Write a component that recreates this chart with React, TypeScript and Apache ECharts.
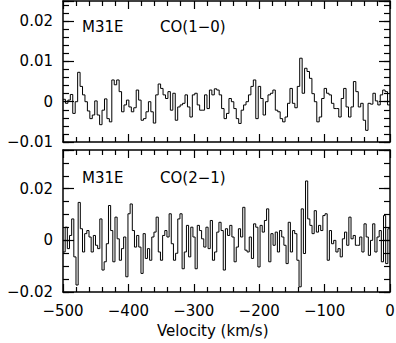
import React, { useEffect, useRef } from "react";
import * as echarts from "echarts";

// CO(1-0) spectrum, Tmb in units of 0.001 K, channels from -500 to 0 km/s
const co10: number[] = [
  0.6, -0.4, 0.4, 1.8, -2.9, 0, 7.3, 3.8, 1.7, 0, -2.3, -4.2, -3.3, 0.2, -3.3, -5.7, -2.1, 0.7, -4.2, -5.0,
  5.4, 4.2, 5.4, 2.5, -2.5, -0.8, 0.4, -1.3, -2.5, -1.5, 2.9, 0.4, -4.6, -4.2, -2.5, 0, -2.5, -5.3, 1.7, 4.4,
  3.3, 1.7, 0.8, 2.5, -2.1, 2.1,
  -4.6, -1.3, -0.8, -0.4, 1.7, -1.3, -3.8, 1.7, 2.1, -0.8, -2.1, -2.1, 1.7, -1.7, 2.9, 1.7, 3.2, 2.9, 1.7, -1.7,
  -4.2, -2.9, 0.8, 0, -1.7, -4.2, -5.4, -2.1, -0.8, 0, 1.7, 3.8, 5.4, -4.2, 3.8, 0.8, -3.3, 0, 1.7, 2.1,
  2.9, -2.1, -2.5, -4.2,
  -5.0, -3.8, -0.4, 3.3, -0.4, -1.5, 3.8, 10.8, 2.1, 8.3, 7.5, 5.8, 2.0, 0, -5.0, -3.8, 0.8, 3.3, 2.1, 1.7,
  -0.4, -1.7, -1.7, -3.8, 0.8, 3.3, -1.3, -3.8, -1.3, 5.0, 2.5, -1.3, -0.4, -4.6, -7.1, -0.4, -0.6, 2.1, 0.2, -0.8,
  1.7, 2.9, 2.5, -0.8,
];

// CO(2-1) spectrum, Tmb in units of 0.001 K
const co21: number[] = [
  -4.5, 5.1, -3.2, 1.9, 8.3, -6.4, -17.3, 14.7, 4.5, -4.5, 2.6, 3.8, 1.3, -4.5, 1.9, -1.9, -3.2, 8.3, -11.5, -8.3,
  -1.3, 13.5, 3.8, -8.3, 9.0, 0.6, -7.7, -3.2, 1.3, -14.1, 10.3, 14.1, 3.8, -2.6, 1.9, -2.6, -12.8, 2.6, -7.0, -3.2,
  -7.7, 1.3, 3.2, 9.0, -4.5, -7.7, 1.9, 3.8, 1.3, 10.3, -1.3, -7.7,
  -5.0, 8.3, 10.3, -11.0, -4.5, 5.8, -6.4, 5.1, 1.3, -11.0, 5.8, 3.8, 0.6, -2.6, 5.1, -3.2, 7.7, -7.7, -4.5, 3.2,
  7.0, 3.8, -11.5, 4.5, 1.9, 5.8, 1.3, -8.3, -2.6, 4.5, 1.3, 12.8, -3.8, -4.5, 1.3, -7.0, 6.4, 5.1, -10.3, 5.8,
  3.2, 7.7, 12.2, -8.3, 2.6, -1.9, 3.2, -4.5, 3.8,
  1.3, -1.9, -9.0, 7.0, -4.5, 3.8, 2.6, -7.7, -18.0, 12.2, -5.1, 23.0, 8.3, 5.8, 2.6, 11.5, 3.2, 5.8, 3.8, 9.6,
  10.3, -7.7, 3.8, -1.3, 0, -4.5, -3.2, -6.4, 0.6, 3.2, -1.9, 9.0, 0.6, 1.9, -1.9, -1.9, 1.3, -4.5, 6.4, 1.3,
  -5.8, 0, 6.4, -4.5, 1.3, 3.8, -8.3, 9.6, -9.0, 4.5,
];

const velRange = [-500, 0];
const topYRange = [-10, 25];
const botYRange = [-20, 35];
const panelLabels = ["M31E", "CO(1\u22120)", "M31E", "CO(2\u22121)"];
const xTitle = "Velocity (km/s)";

const FONT = "DejaVu Sans";

function toPairs(vals: number[]) {
  const dv = (velRange[1] - velRange[0]) / vals.length;
  const pts = vals.map((v, i) => [velRange[0] + i * dv, v]);
  pts.push([velRange[1], vals[vals.length - 1]]);
  return pts;
}

function yFmt(major: number) {
  return (v: number) => {
    if (Math.abs(v % major) > 1e-6) return "";
    if (v === 0) return "0";
    return (v / 1000).toFixed(2).replace("-", "\u2212");
  };
}
const noLabel = () => "";

export default function App() {
  const ref = useRef<HTMLDivElement>(null);
  useEffect(() => {
    if (!ref.current) return;
    const chart = echarts.init(ref.current, undefined, { renderer: "svg" });
    const tickStyle = { color: "#000", width: 1.2 };
    const labelBase = { show: true, fontSize: 15, fontFamily: FONT, color: "#000" };
    const xAx = (grid: number, pos: string, labels: boolean) => ({
      gridIndex: grid,
      type: "value",
      position: pos,
      min: velRange[0],
      max: velRange[1],
      interval: 100,
      axisLine: { show: true, onZero: false, lineStyle: { color: "#000", width: 1.5 } },
      axisTick: { show: true, inside: true, length: 8, lineStyle: tickStyle },
      minorTick: { show: true, splitNumber: 5, length: 5, lineStyle: tickStyle },
      splitLine: { show: false },
      axisLabel: {
        ...labelBase,
        margin: 11,
        formatter: labels ? (v: number) => (v === 0 ? "0" : String(v).replace("-", "\u2212")) : noLabel,
      },
    });
    const yAx = (grid: number, pos: string, range: number[], interval: number, len: number, labels: boolean, line: boolean) => ({
      gridIndex: grid,
      type: "value",
      position: pos,
      min: range[0],
      max: range[1],
      interval,
      axisLine: { show: line, onZero: false, lineStyle: { color: "#000", width: 1.5 } },
      axisTick: { show: true, inside: true, length: len, lineStyle: tickStyle },
      splitLine: { show: false },
      axisLabel: {
        ...labelBase,
        margin: 10,
        formatter: labels ? yFmt(interval) : noLabel,
      },
    });
    chart.setOption({
      animation: false,
      grid: [
        { left: 63, top: 1, width: 327, height: 141, containLabel: false, outerBoundsMode: "none" },
        { left: 63, top: 150, width: 327, height: 142, containLabel: false, outerBoundsMode: "none" },
      ],
      xAxis: [xAx(0, "bottom", false), xAx(0, "top", false), xAx(1, "bottom", true), xAx(1, "top", false)],
      yAxis: [
        yAx(0, "left", topYRange, 10, 11, true, true),
        yAx(0, "left", topYRange, 2, 6, false, false),
        yAx(0, "right", topYRange, 10, 11, false, true),
        yAx(0, "right", topYRange, 2, 6, false, false),
        yAx(1, "left", botYRange, 20, 11, true, true),
        yAx(1, "left", botYRange, 5, 6, false, false),
        yAx(1, "right", botYRange, 20, 11, false, true),
        yAx(1, "right", botYRange, 5, 6, false, false),
      ],
      series: [
        {
          type: "line",
          xAxisIndex: 0,
          yAxisIndex: 0,
          step: "end",
          symbol: "none",
          data: toPairs(co10),
          lineStyle: { color: "#000", width: 1 },
        },
        {
          type: "line",
          xAxisIndex: 2,
          yAxisIndex: 4,
          step: "end",
          symbol: "none",
          data: toPairs(co21),
          lineStyle: { color: "#000", width: 1 },
        },
      ],
      graphic: [
        { type: "text", left: 82, top: 19, style: { text: panelLabels[0], fontSize: 15, fontFamily: FONT, fill: "#000" } },
        { type: "text", left: 160, top: 19, style: { text: panelLabels[1], fontSize: 15, fontFamily: FONT, fill: "#000" } },
        { type: "text", left: 82, top: 170, style: { text: panelLabels[2], fontSize: 15, fontFamily: FONT, fill: "#000" } },
        { type: "text", left: 160, top: 170, style: { text: panelLabels[3], fontSize: 15, fontFamily: FONT, fill: "#000" } },
        { type: "text", left: 157, top: 323, style: { text: xTitle, fontSize: 15, fontFamily: FONT, fill: "#000" } },
      ],
    });
    return () => chart.dispose();
  }, []);
  return <div ref={ref} style={{ position: "absolute", left: 0, top: 0, width: 396, height: 343 }} />;
}
